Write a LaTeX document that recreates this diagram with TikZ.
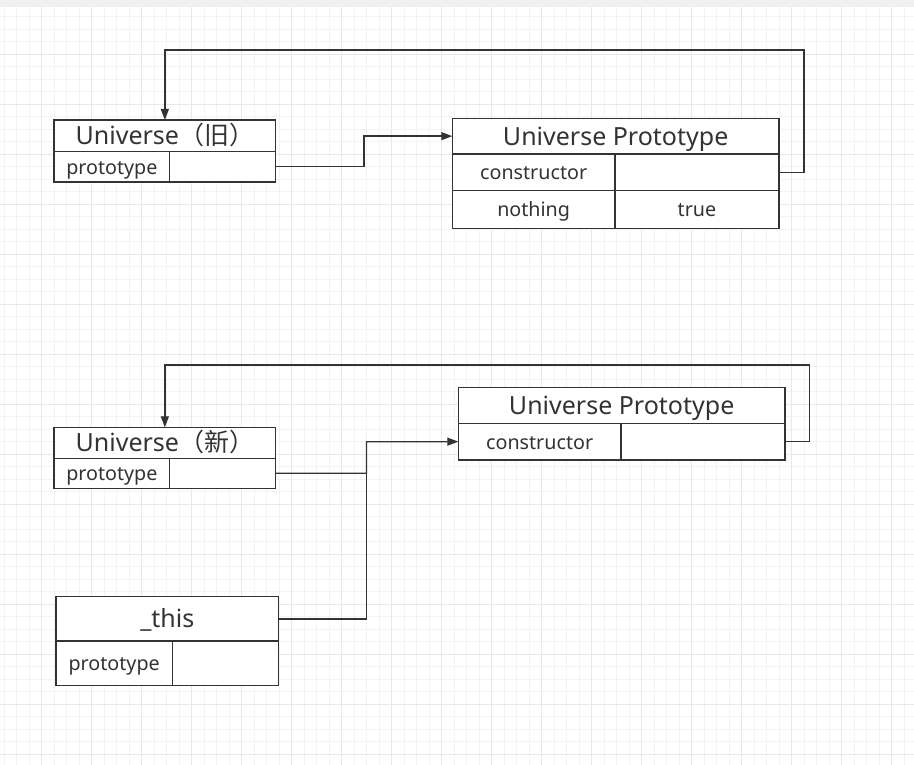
\documentclass[tikz,border=0pt]{standalone}
\usepackage{fontspec}
\setmainfont{Noto Sans}
\newfontfamily\cjk{Noto Sans CJK SC}
\usetikzlibrary{arrows.meta}
\definecolor{ink}{HTML}{333333}
\definecolor{gminor}{HTML}{F3F3F3}
\definecolor{gmajor}{HTML}{E8E8E8}
\definecolor{topband}{HTML}{F0F0F0}
\tikzset{
  box/.style={draw=ink, line width=1.3pt, fill=white, inner sep=0pt, outer sep=0pt, text=ink, anchor=north west},
  hdr/.style={box, font=\fontsize{25}{26}\selectfont, text height=17.8pt, text depth=0pt},
  cell/.style={box, font=\fontsize{19.7}{21}\selectfont, text height=15pt, text depth=0pt},
  conn/.style={draw=ink, line width=1.3pt},
  arr/.style={conn, -{Triangle[length=11pt,width=8pt]}}
}
\begin{document}
\begin{tikzpicture}[x=1pt,y=-1pt]
\useasboundingbox (0,0) rectangle (914,765);
\fill[white] (0,0) rectangle (914,765);
% grid
\foreach \i in {0,...,72} {
  \draw[gminor, line width=0.8pt] ({4.2+12.5*\i},7) -- ({4.2+12.5*\i},765);
}
\foreach \i in {0,...,61} {
  \draw[gminor, line width=0.8pt] (0,{4.3+12.5*\i}) -- (914,{4.3+12.5*\i});
}
\foreach \i in {0,...,18} {
  \draw[gmajor, line width=0.9pt] ({41.7+50*\i},7) -- ({41.7+50*\i},765);
}
\foreach \i in {1,...,15} {
  \draw[gmajor, line width=0.9pt] (0,{4.3+50*\i}) -- (914,{4.3+50*\i});
}
\fill[topband] (0,0) rectangle (914,7);

% Box 1: Universe (old)
\node[hdr, minimum width=221.7pt, minimum height=31.7pt] (u1h) at (54,120) {Universe{\cjk （旧）}};
\node[cell, minimum width=115.7pt, minimum height=30.3pt] (u1p) at (u1h.south west) {prototype};
\node[cell, minimum width=106pt, minimum height=30.3pt] (u1v) at (u1p.north east) {};

% Box 2: Universe Prototype (top)
\node[hdr, minimum width=326.7pt, minimum height=35.7pt] (p1h) at (452.3,118.3) {Universe Prototype};
\node[cell, minimum width=162.7pt, minimum height=36.7pt] (p1c) at (p1h.south west) {constructor};
\node[cell, minimum width=164pt, minimum height=36.7pt] (p1cv) at (p1c.north east) {};
\node[cell, minimum width=162.7pt, minimum height=37.6pt] (p1n) at (p1c.south west) {nothing};
\node[cell, minimum width=164pt, minimum height=37.6pt] (p1t) at (p1n.north east) {true};

% Box 3: Universe (new)
\node[hdr, minimum width=221.7pt, minimum height=31pt] (u2h) at (54,427.3) {Universe{\cjk （新）}};
\node[cell, minimum width=115.7pt, minimum height=30pt] (u2p) at (u2h.south west) {prototype};
\node[cell, minimum width=106pt, minimum height=30pt] (u2v) at (u2p.north east) {};

% Box 4: Universe Prototype (bottom)
\node[hdr, minimum width=326.7pt, minimum height=35.6pt] (p2h) at (458.3,387.7) {Universe Prototype};
\node[cell, minimum width=162.7pt, minimum height=36.7pt] (p2c) at (p2h.south west) {constructor};
\node[cell, minimum width=164pt, minimum height=36.7pt] (p2cv) at (p2c.north east) {};

% Box 5: _this
\node[hdr, minimum width=222.7pt, minimum height=44.3pt] (th) at (56,596.7) {\_this};
\node[cell, minimum width=116.3pt, minimum height=44.7pt] (tp) at (th.south west) {prototype};
\node[cell, minimum width=106.4pt, minimum height=44.7pt] (tv) at (tp.north east) {};

% connector coordinates
\coordinate (j1) at (364,150);
\coordinate (loop1) at (804,50);
\coordinate (loop2) at (809.3,365);
\coordinate (j2) at (366.5,441.7);

% connectors
\draw[arr] (u1v.east) -- (u1v.east -| j1) |- (p1h.west);
\draw[arr] (p1cv.east) -| (loop1) -| (u1h.north);
\draw[arr] (p2cv.east) -| (loop2) -| (u2h.north);
\draw[arr] (u2v.east) -| (j2) -- (p2c.west);
\draw[conn] (th.east) -| (j2);
\end{tikzpicture}
\end{document}
